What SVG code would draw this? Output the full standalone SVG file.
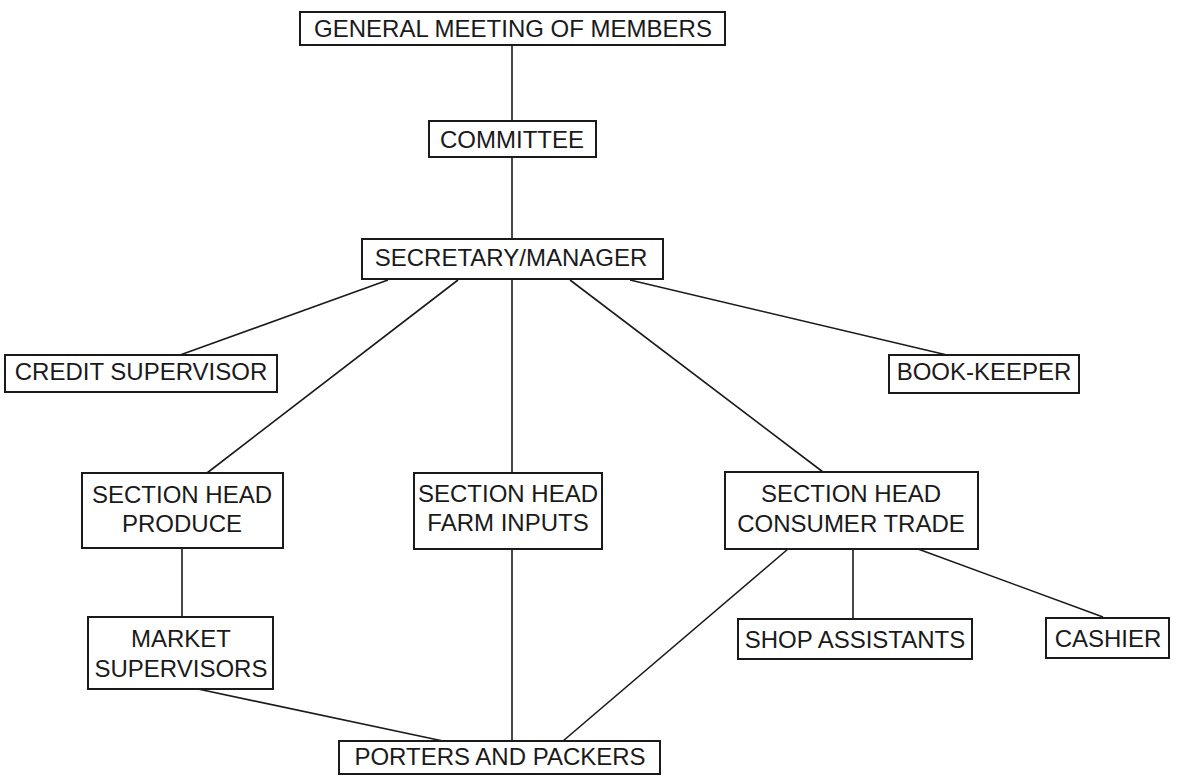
<svg xmlns="http://www.w3.org/2000/svg" width="1182" height="776" viewBox="0 0 1182 776">
<style>
.box{fill:#fff;stroke:#1a1a1a;stroke-width:2}
.t{font-family:"Liberation Sans",Arial,sans-serif;font-size:24px;fill:#1a1a1a;text-anchor:middle}
.c line{stroke:#1a1a1a;stroke-width:1.6}
</style>
<rect width="1182" height="776" fill="#fff"/>
<g class="c" id="connectors">
<line x1="512" y1="44" x2="512" y2="121"/>
<line x1="512" y1="157" x2="512" y2="239"/>
<line x1="388" y1="280" x2="180" y2="355"/>
<line x1="458" y1="280" x2="207" y2="473"/>
<line x1="512" y1="280" x2="512" y2="473"/>
<line x1="570" y1="280" x2="823" y2="472"/>
<line x1="630" y1="280" x2="947" y2="355"/>
<line x1="182" y1="549" x2="182" y2="617"/>
<line x1="512" y1="549" x2="512" y2="741"/>
<line x1="198" y1="689" x2="443" y2="741"/>
<line x1="788" y1="549" x2="563" y2="741"/>
<line x1="853" y1="549" x2="853" y2="619"/>
<line x1="918" y1="549" x2="1103" y2="617"/>
</g>
<g id="general"><rect class="box" x="300" y="12" width="425" height="33"/><text class="t" x="513" y="37">GENERAL MEETING OF MEMBERS</text></g>
<g id="committee"><rect class="box" x="429" y="121" width="167" height="36"/><text class="t" x="512" y="148">COMMITTEE</text></g>
<g id="secretary"><rect class="box" x="362" y="239" width="301" height="40"/><text class="t" x="511" y="266">SECRETARY/MANAGER</text></g>
<g id="credit"><rect class="box" x="5" y="355" width="272" height="37"/><text class="t" x="141" y="380">CREDIT SUPERVISOR</text></g>
<g id="bookkeeper"><rect class="box" x="889" y="355" width="190" height="38"/><text class="t" x="984" y="380">BOOK-KEEPER</text></g>
<g id="produce"><rect class="box" x="82" y="473" width="201" height="75"/><text class="t" x="182" y="503">SECTION HEAD</text><text class="t" x="182" y="532">PRODUCE</text></g>
<g id="farm"><rect class="box" x="414" y="473" width="188" height="76"/><text class="t" x="508" y="502">SECTION HEAD</text><text class="t" x="508" y="531">FARM INPUTS</text></g>
<g id="consumer"><rect class="box" x="725" y="472" width="253" height="77"/><text class="t" x="851" y="502">SECTION HEAD</text><text class="t" x="851" y="532">CONSUMER TRADE</text></g>
<g id="market"><rect class="box" x="88" y="617" width="185" height="72"/><text class="t" x="181" y="647">MARKET</text><text class="t" x="181" y="677">SUPERVISORS</text></g>
<g id="shop"><rect class="box" x="738" y="619" width="234" height="40"/><text class="t" x="855" y="648">SHOP ASSISTANTS</text></g>
<g id="cashier"><rect class="box" x="1046" y="618" width="123" height="40"/><text class="t" x="1108" y="647">CASHIER</text></g>
<g id="porters"><rect class="box" x="339" y="741" width="321" height="33"/><text class="t" x="500" y="765">PORTERS AND PACKERS</text></g>
</svg>
